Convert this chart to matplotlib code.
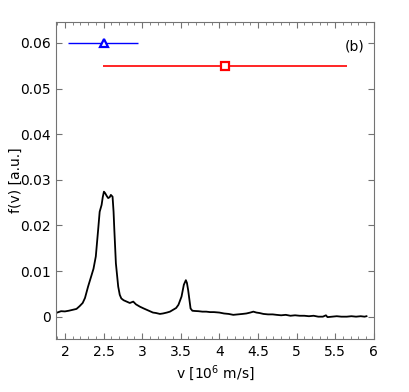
import numpy as np
import matplotlib.pyplot as plt
from matplotlib.ticker import MultipleLocator

# velocity distribution
v = [1.90, 1.95, 2.00, 2.05, 2.10, 2.15, 2.19, 2.23, 2.26, 2.30, 2.345, 2.37, 2.40,
     2.43, 2.45, 2.475, 2.49, 2.505, 2.52, 2.54, 2.56, 2.58, 2.595, 2.617, 2.63,
     2.64, 2.66, 2.69, 2.71, 2.73, 2.76, 2.80, 2.84, 2.885, 2.92, 2.97, 3.02, 3.06,
     3.10, 3.14, 3.18, 3.23, 3.27, 3.32, 3.36, 3.40, 3.44, 3.47, 3.51, 3.54, 3.566,
     3.58, 3.596, 3.627, 3.65, 3.68, 3.73, 3.78, 3.83, 3.88, 3.93, 4.00, 4.06, 4.12,
     4.18, 4.24, 4.30, 4.35, 4.40, 4.44, 4.48, 4.52, 4.57, 4.63, 4.69, 4.74, 4.80,
     4.86, 4.92, 4.98, 5.04, 5.10, 5.16, 5.22, 5.28, 5.34, 5.38, 5.40, 5.46, 5.52,
     5.58, 5.65, 5.71, 5.77, 5.83, 5.88, 5.905]
f = [0.0009, 0.0012, 0.00115, 0.0013, 0.0015, 0.0017, 0.0023, 0.0030, 0.0041, 0.0066,
     0.0091, 0.0105, 0.0132, 0.0190, 0.0230, 0.0245, 0.0262, 0.0274, 0.0271, 0.0265,
     0.0260, 0.0262, 0.0267, 0.0263, 0.0230, 0.0190, 0.0117, 0.0066, 0.0048, 0.0040,
     0.0036, 0.0033, 0.0030, 0.0033, 0.0027, 0.0022, 0.0018, 0.0015, 0.0012, 0.0009,
     0.0008, 0.0006, 0.0007, 0.0009, 0.0011, 0.0015, 0.0019, 0.0026, 0.0044, 0.0070,
     0.0080, 0.0074, 0.0058, 0.0018, 0.0013, 0.00125, 0.0012, 0.0011, 0.0011, 0.0010,
     0.0010, 0.0009, 0.0007, 0.0006, 0.0004, 0.0005, 0.0006, 0.0007, 0.0009, 0.0011,
     0.0009, 0.0008, 0.0006, 0.0005, 0.0005, 0.0004, 0.0003, 0.0004, 0.0002, 0.0003,
     0.0002, 0.0002, 0.0001, 0.0002, 0.0000, 0.0000, 0.0003, -0.0001, 0.0000, 0.0001,
     0.0000, 0.0000, 0.0001, 0.0000, 0.0001, 0.0000, 0.0001]

# horizontal error bars
blue_x, blue_y, blue_lo, blue_hi = 2.5, 0.060, 2.04, 2.95
red_x, red_y, red_lo, red_hi = 4.07, 0.055, 2.49, 5.65

fig = plt.figure(figsize=(4.09, 3.92), dpi=100)
ax = fig.add_axes([0.137, 0.134, 0.777, 0.811])

ax.plot(v, f, color='black', lw=1.3)

ax.errorbar(blue_x, blue_y, xerr=[[blue_x - blue_lo], [blue_hi - blue_x]],
            fmt='^', color='blue', mfc='white', mec='blue', ms=6, mew=1.6,
            elinewidth=1.0, capsize=0)
ax.errorbar(red_x, red_y, xerr=[[red_x - red_lo], [red_hi - red_x]],
            fmt='s', color='red', mfc='white', mec='red', ms=6, mew=1.6,
            elinewidth=1.2, capsize=0)

ax.text(0.97, 0.92, '(b)', transform=ax.transAxes, ha='right', va='center', fontsize=10)

ax.set_xlim(1.885, 6)
ax.set_ylim(-0.005, 0.0647)
ax.set_xticks([2, 2.5, 3, 3.5, 4, 4.5, 5, 5.5, 6])
ax.set_xticklabels(['2', '2.5', '3', '3.5', '4', '4.5', '5', '5.5', '6'])
ax.xaxis.set_minor_locator(MultipleLocator(0.1))
ax.set_yticks([0, 0.01, 0.02, 0.03, 0.04, 0.05, 0.06])
ax.set_yticklabels(['0', '0.01', '0.02', '0.03', '0.04', '0.05', '0.06'])

ax.tick_params(which='both', direction='in', top=True, right=True,
               color='0.45', labelsize=10, pad=4)
ax.tick_params(which='major', length=4)
ax.tick_params(which='minor', length=2)
for s in ax.spines.values():
    s.set_color('0.45')
    s.set_linewidth(0.8)

ax.set_xlabel('v [10$^6$ m/s]', fontsize=10)
ax.set_ylabel('f(v) [a.u.]', fontsize=10)
ax.xaxis.set_label_coords(0.5, -0.075)
ax.yaxis.set_label_coords(-0.105, 0.5)

fig.savefig('out.png', dpi=100)
